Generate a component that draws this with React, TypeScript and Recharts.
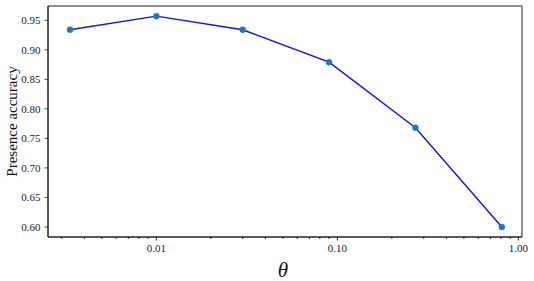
import React from "react";
import { LineChart, Line, XAxis, YAxis, ReferenceArea } from "recharts";

const thetaValues = [1 / 300, 0.01, 0.03, 0.09, 0.27, 0.81];
const accuracyValues = [0.934, 0.957, 0.934, 0.879, 0.768, 0.6];
const yTicks = [0.6, 0.65, 0.7, 0.75, 0.8, 0.85, 0.9, 0.95];
const xMajorTicks = [0.01, 0.1, 1];
const xMinorTicks = [
  0.003, 0.004, 0.005, 0.006, 0.007, 0.008, 0.009,
  0.02, 0.03, 0.04, 0.05, 0.06, 0.07, 0.08, 0.09,
  0.2, 0.3, 0.4, 0.5, 0.6, 0.7, 0.8, 0.9,
];

const X_DOMAIN: [number, number] = [0.00252, 1.047];
const Y_DOMAIN: [number, number] = [0.583, 0.9742];

const data = thetaValues.map((t, i) => ({ theta: t, acc: accuracyValues[i] }));
const allXTicks = [...xMinorTicks, ...xMajorTicks].sort((a, b) => a - b);

const FONT = "Liberation Serif";

const XTick = (props: any) => {
  const { x, y, payload } = props;
  const v = payload.value;
  const isMajor = xMajorTicks.some((m) => Math.abs(m - v) < 1e-9);
  return (
    <g>
      <line x1={x} x2={x} y1={y} y2={y + (isMajor ? 3.5 : 2)} stroke="#000" strokeWidth={0.8} />
      {isMajor && (
        <text
          x={x}
          y={y + 15}
          textAnchor="middle"
          fontSize={11}
          style={{ fontFamily: FONT }}
          fill="#222"
        >
          {v.toFixed(2)}
        </text>
      )}
    </g>
  );
};

const YTick = (props: any) => {
  const { x, y, payload } = props;
  return (
    <text
      x={x}
      y={y}
      textAnchor="end"
      dominantBaseline="central"
      fontSize={11}
      style={{ fontFamily: FONT }}
      fill="#222"
    >
      {Number(payload.value).toFixed(2)}
    </text>
  );
};

export default function App() {
  return (
    <div style={{ position: "absolute", left: 0, top: 0, background: "#fff" }}>
      <LineChart
        width={534}
        height={281}
        data={data}
        margin={{ top: 6, right: 12, left: 0, bottom: 0 }}
      >
        <XAxis
          dataKey="theta"
          type="number"
          scale="log"
          domain={X_DOMAIN}
          allowDataOverflow
          ticks={allXTicks}
          interval={0}
          tick={<XTick />}
          tickLine={false}
          tickSize={0}
          tickMargin={0}
          height={44}
          axisLine={{ stroke: "#222", strokeWidth: 1 }}
        />
        <YAxis
          type="number"
          domain={Y_DOMAIN}
          allowDataOverflow
          ticks={yTicks}
          interval={0}
          width={48}
          tickSize={3.5}
          tickMargin={4}
          tick={<YTick />}
          tickLine={{ stroke: "#222", strokeWidth: 0.8 }}
          axisLine={{ stroke: "#222", strokeWidth: 1 }}
        />
        <ReferenceArea
          x1={X_DOMAIN[0]}
          x2={X_DOMAIN[1]}
          y1={Y_DOMAIN[0]}
          y2={Y_DOMAIN[1]}
          fill="none"
          fillOpacity={0}
          stroke="#222"
          strokeWidth={1}
          ifOverflow="visible"
        />
        <Line
          dataKey="acc"
          stroke="#1010f0"
          strokeWidth={1.4}
          isAnimationActive={false}
          dot={{ r: 3, fill: "#1f77b4", stroke: "#1f77b4", strokeWidth: 0.5 }}
          activeDot={false}
        />
        <text
          x={12}
          y={121.5}
          transform="rotate(-90 12 121.5)"
          textAnchor="middle"
          dominantBaseline="central"
          fontSize={15}
          style={{ fontFamily: FONT }}
          fill="#111"
        >
          Presence accuracy
        </text>
        <text
          x={283}
          y={270}
          textAnchor="middle"
          dominantBaseline="central"
          fontSize={21}
          fontStyle="italic"
          style={{ fontFamily: FONT }}
          fill="#111"
        >
          θ
        </text>
      </LineChart>
    </div>
  );
}
